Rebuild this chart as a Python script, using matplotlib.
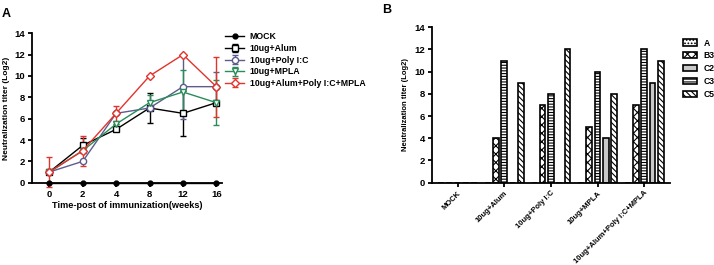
import matplotlib
matplotlib.use("Agg")
from matplotlib import pyplot as plt
import numpy as np

plt.rcParams['font.family'] = ['Liberation Sans', 'DejaVu Sans']
plt.rcParams['font.weight'] = 'bold'
plt.rcParams['hatch.linewidth'] = 0.8

# panel A data
weeks = ['0', '2', '4', '8', '12', '16']
mock = [0, 0, 0, 0, 0, 0]
alum = [1, 3.5, 5, 7, 6.5, 7.5]
alum_err = [0, 0.7, 0, 1.4, 2.1, 0]
polyic = [1, 2, 6.5, 7, 9, 9]
polyic_err = [0, 0, 0, 0, 3.0, 1.4]
mpla = [1, 3, 5.5, 7.5, 8.5, 7.5]
mpla_err = [0, 0, 0, 0.7, 2.1, 2.1]
combo = [1, 3, 6.5, 10, 12, 9]
combo_err = [1.4, 1.4, 0.7, 0, 0, 2.8]

# panel B data
groups = ['MOCK', '10ug+Alum', '10ug+Poly I:C', '10ug+MPLA', '10ug+Alum+Poly I:C+MPLA']
b_A = [0, 0, 0, 0, 0]
b_B3 = [0, 4, 7, 5, 7]
b_C2 = [0, 0, 0, 4, 9]
b_C3 = [0, 11, 8, 10, 12]
b_C5 = [0, 9, 12, 8, 11]

fig = plt.figure(figsize=(7.14, 2.65), dpi=100)

# ---- panel A
ax = fig.add_axes([0.0452, 0.3106, 0.2653, 0.5637])
x = np.arange(len(weeks))
ax.plot(x, mock, '-o', color='black', ms=3.5, lw=1, clip_on=False, zorder=5, label='MOCK')
series = [
    (alum, alum_err, 's', 'black', '10ug+Alum'),
    (polyic, polyic_err, 'o', '#5c5c8e', '10ug+Poly I:C'),
    (mpla, mpla_err, 'v', '#2a8c5a', '10ug+MPLA'),
    (combo, combo_err, 'D', '#e2332c', '10ug+Alum+Poly I:C+MPLA'),
]
for y, e, m, c, lab in series:
    ax.errorbar(x, y, yerr=e, fmt='-' + m, color=c, mfc='white', mec=c,
                ms=4.5 if m != 'D' else 3.8, lw=1, mew=1, capsize=2.5, elinewidth=1,
                capthick=1, label=lab, clip_on=False, zorder=4)
ax.set_xlim(-0.51, 5.16)
ax.set_ylim(0, 14)
ax.set_yticks(range(0, 15, 2))
ax.set_xticks(x)
ax.set_xticklabels(weeks)
ax.spines['top'].set_visible(False)
ax.spines['right'].set_visible(False)
for s in ['left', 'bottom']:
    ax.spines[s].set_linewidth(1.3)
ax.tick_params(width=1.3, length=3, labelsize=6.8, pad=2)
ax.set_xlabel('Time-post of immunization(weeks)', fontsize=6.6, fontweight='bold', labelpad=2)
ax.set_ylabel('Neutralization titer (Log2)', fontsize=6, fontweight='bold', labelpad=3)
ax.legend(loc='upper left', bbox_to_anchor=(1.0, 1.03), frameon=False, fontsize=6.3,
          handlelength=2.2, handletextpad=0.6, labelspacing=0.3, borderaxespad=0)
fig.text(0.003, 0.97, 'A', fontsize=9, fontweight='bold', va='top')

# ---- panel B
bx = fig.add_axes([0.605, 0.3106, 0.3333, 0.5864])
g = np.arange(len(groups))
w = 0.122
step = 0.178
bars = [
    (b_A, -2, 'white', '.....', 'A'),
    (b_B3, -1, 'white', 'xxxx', 'B3'),
    (b_C2, 1, '#c8c8c8', None, 'C2'),
    (b_C3, 0, 'white', '------', 'C3'),
    (b_C5, 2, 'white', '\\\\\\\\\\\\', 'C5'),
]
for vals, off, fc, h, lab in bars:
    bx.bar(g + off * step, vals, width=w, color=fc, edgecolor='black', hatch=h,
           linewidth=1.2, label=lab)
bx.set_xlim(-0.55, 4.55)
bx.set_ylim(0, 14)
bx.set_yticks(range(0, 15, 2))
bx.set_xticks(g)
bx.set_xticklabels(groups, rotation=45, ha='right', rotation_mode='anchor', fontsize=5.5)
bx.spines['top'].set_visible(False)
bx.spines['right'].set_visible(False)
for s in ['left', 'bottom']:
    bx.spines[s].set_linewidth(1.3)
bx.tick_params(width=1.3, length=3, pad=2)
bx.tick_params(axis='y', labelsize=6.8)
bx.set_ylabel('Neutralization titer (Log2)', fontsize=5.5, fontweight='bold', labelpad=4)
bx.legend(loc='upper left', bbox_to_anchor=(1.04, 0.95), frameon=False, fontsize=6.2,
          handlelength=1.6, handleheight=0.7, handletextpad=0.8, labelspacing=0.45,
          borderaxespad=0)
fig.text(0.535, 0.985, 'B', fontsize=9, fontweight='bold', va='top')

fig.savefig('out.png', dpi=100)
